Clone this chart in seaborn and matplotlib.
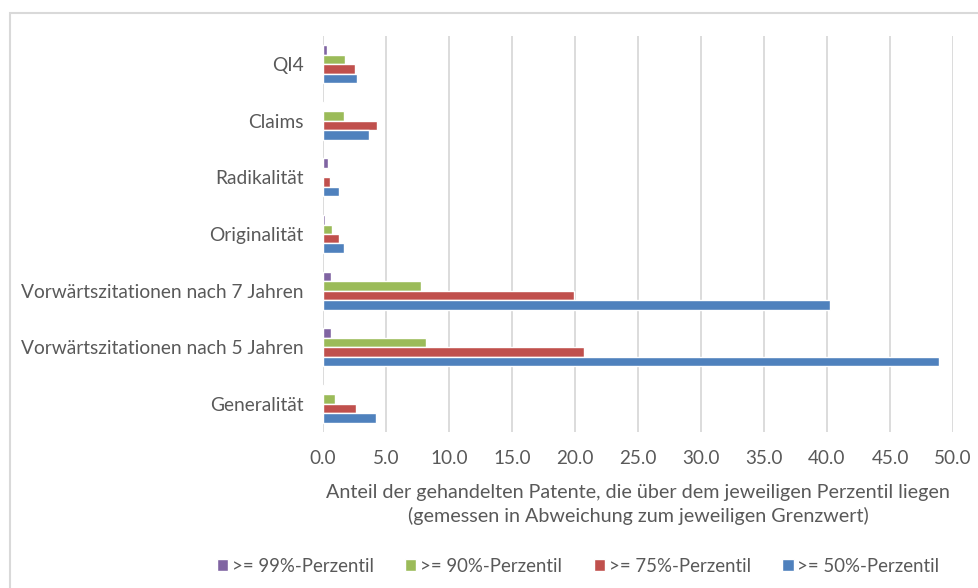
import matplotlib
matplotlib.use("Agg")
import matplotlib.pyplot as plt
import seaborn as sns
import pandas as pd
from matplotlib.patches import Rectangle

categories = ["QI4", "Claims", "Radikalität", "Originalität",
              "Vorwärtszitationen nach 7 Jahren", "Vorwärtszitationen nach 5 Jahren",
              "Generalität"]
series = [">= 99%-Perzentil", ">= 90%-Perzentil", ">= 75%-Perzentil", ">= 50%-Perzentil"]
p99 = [0.34, 0.05, 0.42, 0.13, 0.60, 0.60, 0.10]
p90 = [1.76, 1.68, 0.03, 0.71, 7.75, 8.20, 0.97]
p75 = [2.53, 4.32, 0.58, 1.26, 19.9, 20.7, 2.61]
p50 = [2.71, 3.69, 1.24, 1.69, 40.2, 48.9, 4.22]
colors = ["#8064A2", "#9BBB59", "#C0504D", "#4F81BD"]
xticks = [0, 5, 10, 15, 20, 25, 30, 35, 40, 45, 50]
xlabel = ("Anteil der gehandelten Patente, die über dem jeweiligen Perzentil liegen\n"
          "(gemessen in Abweichung zum jeweiligen Grenzwert)")

rows = []
for s, vals in zip(series, [p99, p90, p75, p50]):
    for c, v in zip(categories, vals):
        rows.append({"Kategorie": c, "Serie": s, "Wert": v})
df = pd.DataFrame(rows)

sns.set_theme(style="white")
plt.rcParams["font.family"] = ["Lato", "DejaVu Sans"]
txt = "#595959"

fig = plt.figure(figsize=(9.79, 5.88), dpi=100)
ax = fig.add_axes([323 / 979, 1 - 432 / 588, 630 / 979, 396 / 588])

sns.barplot(data=df, y="Kategorie", x="Wert", hue="Serie", order=categories,
            hue_order=series, palette=colors, orient="h", width=0.67,
            saturation=1, ax=ax, legend=True)

ax.set_xlim(0, 50)
ax.set_xticks(xticks)
ax.set_xticklabels([f"{t:.1f}" for t in xticks], fontsize=13.6, color=txt)
ax.tick_params(axis="y", labelsize=13.8, labelcolor=txt, length=0, pad=14)
ax.tick_params(axis="x", length=0, pad=13)
ax.grid(axis="x", color="#d9d9d9", linewidth=1.3)
ax.set_axisbelow(True)
for sp in ax.spines.values():
    sp.set_visible(False)
ax.set_ylabel("")
ax.set_xlabel(xlabel, fontsize=14.2, color=txt, labelpad=12, linespacing=1.4)

handles, labels = ax.get_legend_handles_labels()
ax.legend_.remove()
fig.legend(handles, labels, loc="center", bbox_to_anchor=(578 / 979, 1 - 566 / 588),
           ncol=4, frameon=False, fontsize=13.4, labelcolor=txt,
           handlelength=0.6, handleheight=0.6, handletextpad=0.2, columnspacing=1.7)

fig.patches.append(Rectangle((10 / 979, -0.05), 1.1, 1 - 13 / 588 + 0.05,
                             transform=fig.transFigure, fill=False,
                             edgecolor="#d9d9d9", linewidth=1.5))

fig.savefig("out.png", dpi=100)
